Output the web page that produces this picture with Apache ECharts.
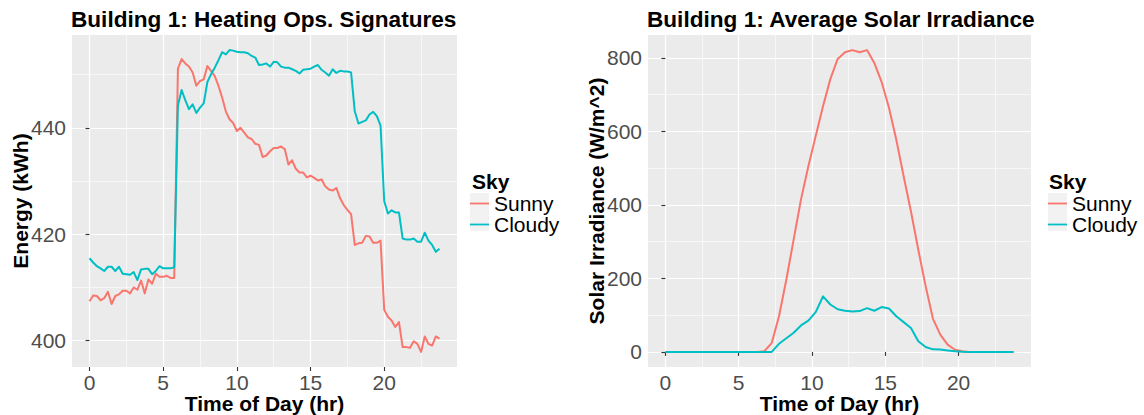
<!DOCTYPE html>
<html>
<head>
<meta charset="utf-8">
<script src="https://cdn.jsdelivr.net/npm/echarts@6/dist/echarts.min.js"></script>
<style>
html,body{margin:0;padding:0;background:#fff;}
#chart{width:1144px;height:415px;}
</style>
</head>
<body>
<div id="chart"></div>
<script>
// ---------- DATA ----------
const seriesNames = ['Sunny', 'Cloudy'];
const legendTitle = 'Sky';
const leftTitle = 'Building 1: Heating Ops. Signatures';
const rightTitle = 'Building 1: Average Solar Irradiance';
const xTitle = 'Time of Day (hr)';
const leftYTitle = 'Energy (kWh)';
const rightYTitle = 'Solar Irradiance (W/m^2)';

const quarterHours = [0,0.25,0.5,0.75,1,1.25,1.5,1.75,2,2.25,2.5,2.75,3,3.25,3.5,3.75,4,4.25,4.5,4.75,5,5.25,5.5,5.75,6,6.25,6.5,6.75,7,7.25,7.5,7.75,8,8.25,8.5,8.75,9,9.25,9.5,9.75,10,10.25,10.5,10.75,11,11.25,11.5,11.75,12,12.25,12.5,12.75,13,13.25,13.5,13.75,14,14.25,14.5,14.75,15,15.25,15.5,15.75,16,16.25,16.5,16.75,17,17.25,17.5,17.75,18,18.25,18.5,18.75,19,19.25,19.5,19.75,20,20.25,20.5,20.75,21,21.25,21.5,21.75,22,22.25,22.5,22.75,23,23.25,23.5,23.75];

const sunnyEnergy = [407.4,408.5,408.4,407.6,408.0,409.2,406.9,408.4,408.7,409.4,409.4,408.9,410.0,409.6,411.3,408.9,411.5,410.7,412.6,412.0,412.0,412.2,411.8,411.8,
451.1,452.9,452.1,451.5,450.4,447.9,448.8,449.1,451.6,450.7,449.7,447.9,445.7,443.1,441.6,440.9,439.4,440.0,439.1,438.2,437.9,437.0,436.8,434.5,
434.8,435.6,436.2,436.2,436.5,436.0,433.1,433.9,432.3,431.6,431.6,430.7,431.0,430.6,430.1,430.3,429.0,428.4,428.2,428.7,426.8,425.5,424.6,423.8,
418.0,418.3,418.4,419.7,419.6,418.4,418.4,418.8,405.8,404.5,403.8,402.6,403.5,398.8,398.8,398.7,399.9,399.4,397.9,400.8,399.4,399.1,400.8,400.4];

const cloudyEnergy = [415.5,414.7,414.0,413.6,413.1,413.9,413.9,413.1,413.9,412.6,412.5,412.4,412.9,411.4,413.4,413.5,413.5,412.5,413.1,414.0,413.6,413.6,413.6,413.8,
444.2,447.1,445.2,443.5,444.4,442.8,443.8,444.6,448.6,450.1,451.3,452.7,454.2,453.8,454.6,454.5,454.3,454.2,454.2,454.0,453.5,453.2,451.8,451.9,
452.1,451.5,452.4,452.3,451.5,451.3,451.3,451.0,450.7,450.2,450.9,451.0,451.1,451.5,451.8,450.9,450.4,449.8,451.0,450.3,450.7,450.6,450.6,450.4,
443.1,440.8,441.1,441.4,442.5,443.0,442.2,440.4,426.2,423.9,424.5,424.1,424.1,419.2,419.0,419.0,419.2,418.6,418.6,420.3,418.8,418.0,416.7,417.3];

const solarHours = [0,0.25,0.75,1.25,1.75,2.25,2.75,3.25,3.75,4.25,4.75,5.25,5.75,6.25,6.75,7.25,7.75,8.25,8.75,9.25,9.75,10.25,10.75,11.25,11.75,12.25,12.75,13.25,13.75,14.25,14.75,15.25,15.75,16.25,16.75,17.25,17.75,18.25,18.75,19.25,19.75,20.25,20.75,21.25,21.75,22.25,22.75,23.25,23.75];

const sunnySolar = [0,0,0,0,0,0,0,0,0,0,0,0,0,0,
2,24,97,197,306,415,505,587,668,742,797,815,821,815,821,786,734,664,577,478,382,278,179,90,47,20,6,2,
0,0,0,0,0,0,0];

const cloudySolar = [0,0,0,0,0,0,0,0,0,0,0,0,0,0,0,0,
22,37,52,72,85,108,151,129,116,112,110,111,119,112,122,118,97,81,65,29,13.5,7,6.5,4,1.5,0.5,
0,0,0,0,0,0,0];

const xTickLabels = ['0','5','10','15','20'];
const leftYTickLabels = ['400','420','440'];
const rightYTickLabels = ['0','200','400','600','800'];

// ---------- STYLE ----------
const COLORS = ['#F8766D', '#00BFC4'];
const FONT = "'Liberation Sans', Arial, Helvetica, sans-serif";
const PANEL = '#EBEBEB';
const LABEL_COLOR = '#4D4D4D';
const LABEL_SIZE = 21;
const AXIS_TITLE_SIZE = 21;

function expand(vals) {
  let lo = Math.min.apply(null, vals), hi = Math.max.apply(null, vals);
  const pad = (hi - lo) * 0.05;
  return [lo - pad, hi + pad];
}
const xR = expand(quarterHours);
const xR2 = expand(solarHours);
const yL = expand(sunnyEnergy.concat(cloudyEnergy));
const yR = expand(sunnySolar.concat(cloudySolar));

const grids = [
  { left: 72, top: 35, width: 385, height: 332, show: true, backgroundColor: PANEL, borderWidth: 0, containLabel: false, outerBoundsMode: 'none' },
  { left: 648, top: 35, width: 383, height: 332, show: true, backgroundColor: PANEL, borderWidth: 0, containLabel: false, outerBoundsMode: 'none' }
];

function majorX(gi, range) {
  return {
    type: 'value', gridIndex: gi, min: range[0], max: range[1], splitNumber: 5,
    axisLine: { show: false },
    axisTick: { show: true, length: 4, lineStyle: { color: '#333333', width: 1.1 } },
    axisLabel: { color: LABEL_COLOR, fontSize: LABEL_SIZE, fontFamily: FONT, margin: 5, lineHeight: 20,
      showMinLabel: false, showMaxLabel: false,
      formatter: v => xTickLabels.indexOf(String(v)) >= 0 ? String(v) : '' },
    splitLine: { show: true, showMinLine: false, showMaxLine: false, lineStyle: { color: '#FFFFFF', width: 1.2 } },
    name: xTitle, nameLocation: 'middle', nameGap: 26, nameMoveOverlap: false,
    nameTextStyle: { color: '#000', fontSize: AXIS_TITLE_SIZE, fontWeight: 'bold', fontFamily: FONT, lineHeight: 20 }
  };
}
function minorAxis(gi, range, shift, split) {
  return {
    type: 'value', gridIndex: gi, min: range[0] - shift, max: range[1] - shift, splitNumber: split,
    axisLine: { show: false }, axisTick: { show: false }, axisLabel: { show: false },
    splitLine: { show: true, showMinLine: false, showMaxLine: false, lineStyle: { color: '#FFFFFF', width: 0.6 } }
  };
}
function majorY(gi, range, split, labels, name, gap) {
  return {
    type: 'value', gridIndex: gi, min: range[0], max: range[1], splitNumber: split,
    axisLine: { show: false },
    axisTick: { show: true, length: 4, lineStyle: { color: '#333333', width: 1.1 } },
    axisLabel: { color: LABEL_COLOR, fontSize: LABEL_SIZE, fontFamily: FONT, margin: 6,
      showMinLabel: false, showMaxLabel: false,
      formatter: v => labels.indexOf(String(v)) >= 0 ? String(v) : '' },
    splitLine: { show: true, showMinLine: false, showMaxLine: false, lineStyle: { color: '#FFFFFF', width: 1.2 } },
    name: name, nameLocation: 'middle', nameGap: gap, nameMoveOverlap: false,
    nameTextStyle: { color: '#000', fontSize: AXIS_TITLE_SIZE, fontWeight: 'bold', fontFamily: FONT, lineHeight: 21 }
  };
}

function lineSeries(name, xs, ys, xi, yi, color) {
  return {
    type: 'line', name: name, xAxisIndex: xi, yAxisIndex: yi,
    data: xs.map((x, i) => [x, ys[i]]),
    showSymbol: false, symbol: 'none', silent: true, animation: false,
    lineStyle: { color: color, width: 2, join: 'round', cap: 'butt' },
    itemStyle: { color: color }, z: 5
  };
}

function legendAt(left) {
  return {
    orient: 'vertical', left: left, top: 193, padding: 0, itemWidth: 19, itemHeight: 19, itemGap: 0,
    data: seriesNames, selectedMode: false,
    textStyle: { fontSize: 21, fontFamily: FONT, color: '#000', lineHeight: 19 },
    icon: 'path://M0,8.6 L19,8.6 L19,10.4 L0,10.4 Z'
  };
}

function keyBoxes(left) {
  return [0, 1].map(i => ({
    type: 'rect', left: left, top: 193 + i * 19, z: -1,
    shape: { width: 19, height: 19 }, style: { fill: '#F2F2F2' }
  }));
}

const option = {
  animation: false,
  backgroundColor: '#FFFFFF',
  color: COLORS,
  grid: grids,
  xAxis: [majorX(0, xR), minorAxis(0, xR, 2.5, 5), majorX(1, xR2), minorAxis(1, xR2, 2.5, 5)],
  yAxis: [
    majorY(0, yL, 3, leftYTickLabels, leftYTitle, 41),
    minorAxis(0, yL, 10, 3),
    majorY(1, yR, 5, rightYTickLabels, rightYTitle, 41),
    minorAxis(1, yR, 100, 5)
  ],
  legend: [legendAt(470), legendAt(1048)],
  series: [
    lineSeries(seriesNames[0], quarterHours, sunnyEnergy, 0, 0, COLORS[0]),
    lineSeries(seriesNames[1], quarterHours, cloudyEnergy, 0, 0, COLORS[1]),
    lineSeries(seriesNames[0], solarHours, sunnySolar, 2, 2, COLORS[0]),
    lineSeries(seriesNames[1], solarHours, cloudySolar, 2, 2, COLORS[1])
  ],
  graphic: [
    { type: 'text', x: 71, y: 19, style: { text: leftTitle, fill: '#000', font: 'bold 22.6px ' + FONT, align: 'left', verticalAlign: 'middle' } },
    { type: 'text', x: 647, y: 19, style: { text: rightTitle, fill: '#000', font: 'bold 22.6px ' + FONT, align: 'left', verticalAlign: 'middle' } },
    { type: 'text', x: 472, y: 181, style: { text: legendTitle, fill: '#000', font: 'bold 21px ' + FONT, align: 'left', verticalAlign: 'middle' } },
    { type: 'text', x: 1049, y: 181, style: { text: legendTitle, fill: '#000', font: 'bold 21px ' + FONT, align: 'left', verticalAlign: 'middle' } }
  ].concat(keyBoxes(470), keyBoxes(1048))
};

const chart = echarts.init(document.getElementById('chart'), null, { renderer: 'svg' });
chart.setOption(option);
</script>
</body>
</html>
